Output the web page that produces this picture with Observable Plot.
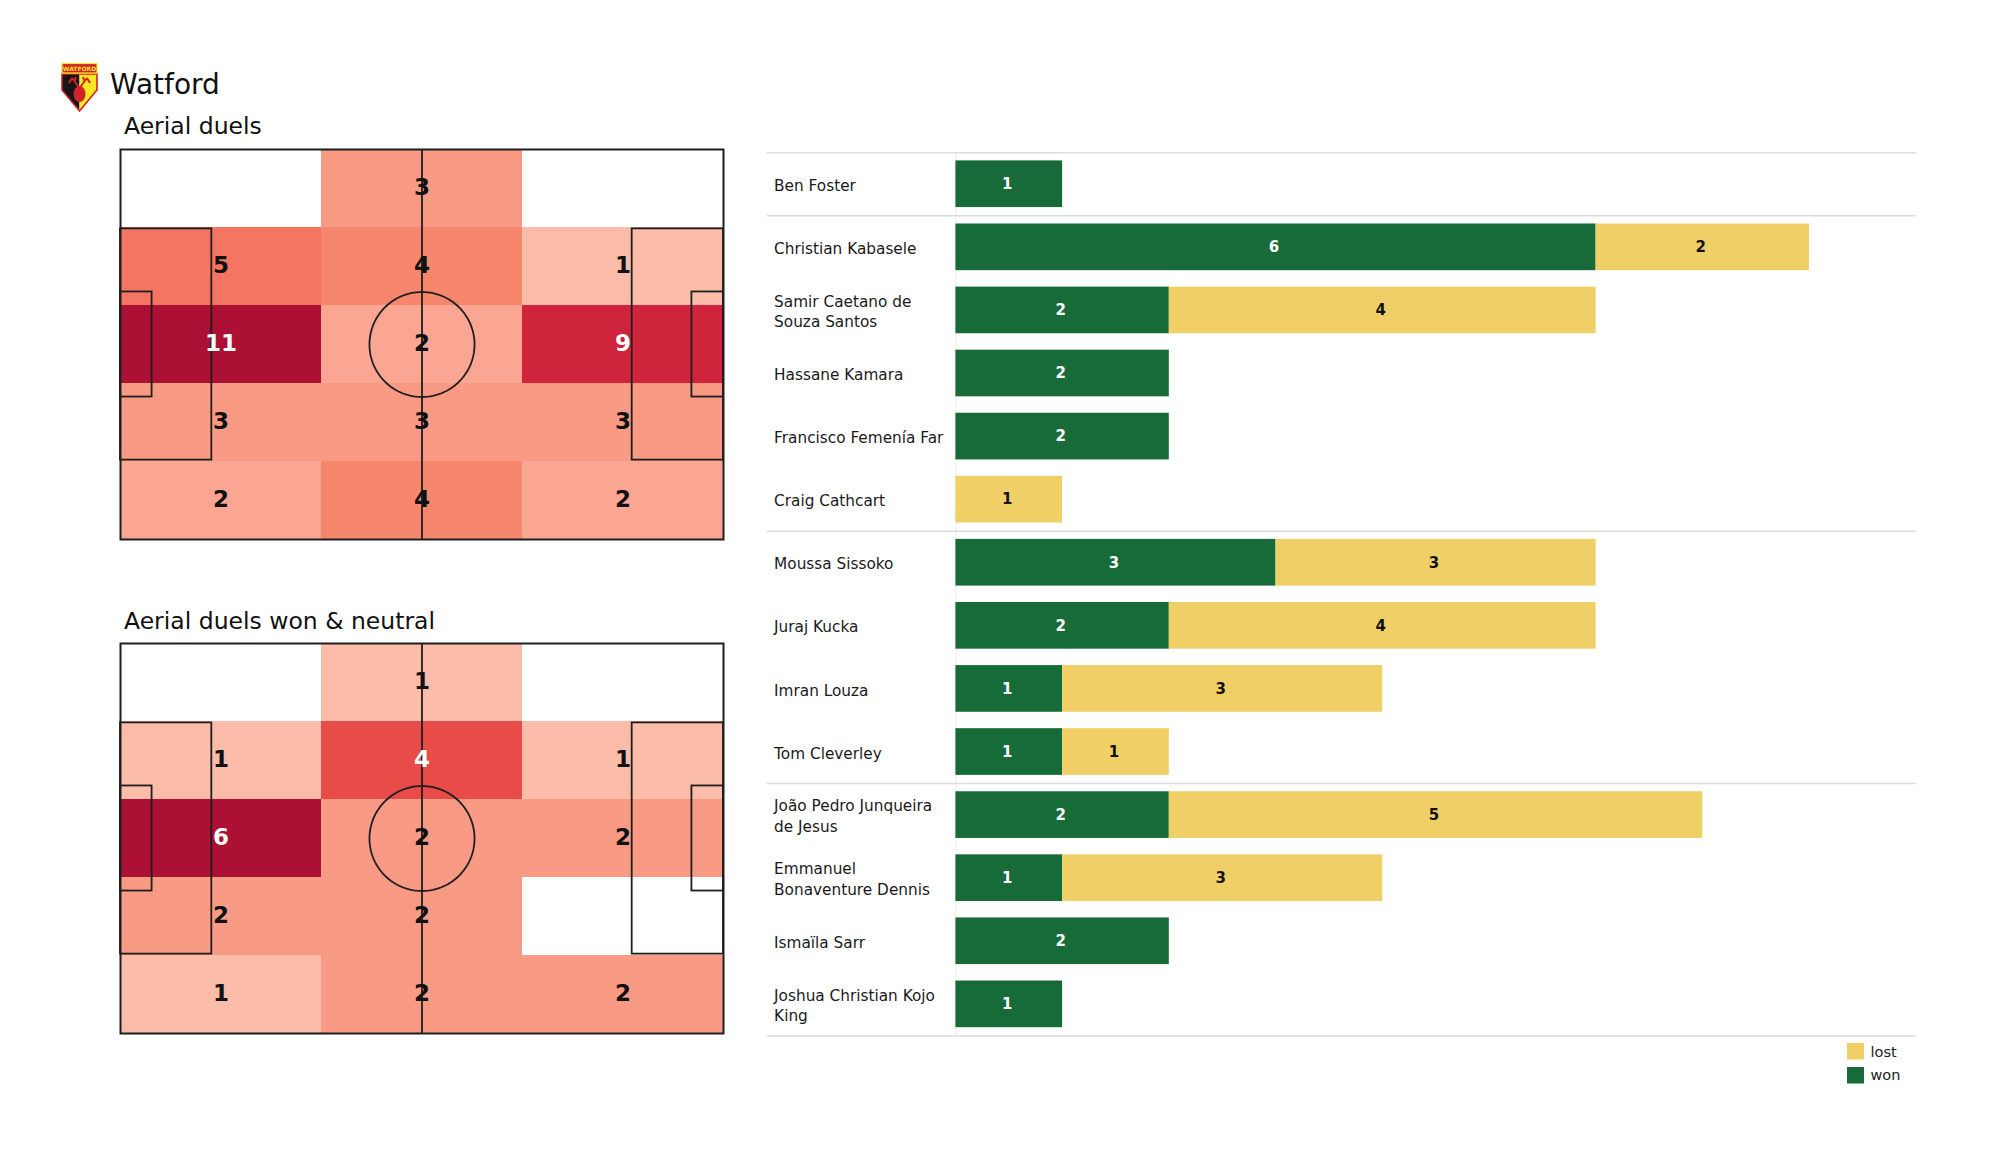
<!DOCTYPE html>
<html><head><meta charset="utf-8">
<script src="https://cdn.jsdelivr.net/npm/d3@7"></script>
<script src="https://cdn.jsdelivr.net/npm/@observablehq/plot@0.6"></script>
<style>
body{margin:0;background:#fff;font-family:"DejaVu Sans",sans-serif;}
#page{position:relative;width:2000px;height:1175px;overflow:hidden;background:#fff;}
</style></head><body><div id="page"></div>
<script>
// ---------- data ----------
const teamName = "Watford";
const pitchTitles = ["Aerial duels", "Aerial duels won & neutral"];
// zone counts, rows top->bottom, columns left->right (3 x 5 grid over a 105 x 68 pitch)
const aerialDuels      = [[0,3,0],[5,4,1],[11,2,9],[3,3,3],[2,4,2]];
const aerialWonNeutral = [[0,1,0],[1,4,1],[6,2,2],[2,2,0],[1,2,2]];

const players = ["Ben Foster","Christian Kabasele","Samir Caetano de Souza Santos","Hassane Kamara",
  "Francisco Femenía Far","Craig Cathcart","Moussa Sissoko","Juraj Kucka","Imran Louza","Tom Cleverley",
  "João Pedro Junqueira de Jesus","Emmanuel Bonaventure Dennis","Ismaïla Sarr","Joshua Christian Kojo King"];
const playerLabels = ["Ben Foster","Christian Kabasele","Samir Caetano de\nSouza Santos","Hassane Kamara",
  "Francisco Femenía Far","Craig Cathcart","Moussa Sissoko","Juraj Kucka","Imran Louza","Tom Cleverley",
  "João Pedro Junqueira\nde Jesus","Emmanuel\nBonaventure Dennis","Ismaïla Sarr","Joshua Christian Kojo\nKing"];
const positions = ["GK","DEF","DEF","DEF","DEF","DEF","MID","MID","MID","MID","FWD","FWD","FWD","FWD"];
const won  = [1,6,2,2,2,0,3,2,1,1,2,1,2,1];
const lost = [0,2,4,0,0,1,3,4,3,1,5,3,0,0];

const resultKeys = ["lost","won"];
const resultColors = ["#f1cf67","#176b38"];
const heatStops  = [0, 0.1, 0.2, 0.3, 0.4, 0.6, 0.8, 1];
const heatColors = ["#fcbcaa","#fba693","#f99b84","#f7876c","#f47561","#e84c48","#cf243c","#ad1035"];

// ---------- page ----------
const page = document.getElementById("page");
const FONT = "DejaVu Sans";
const svgNS = "http://www.w3.org/2000/svg";

// overlay: header, titles, legend, badge
const overlay = document.createElementNS(svgNS, "svg");
overlay.setAttribute("width", 2000); overlay.setAttribute("height", 1175);
overlay.style.position = "absolute"; overlay.style.left = "0"; overlay.style.top = "0";
overlay.innerHTML = `
<g transform="translate(61,63)">
  <polygon points="1,11 18.5,11 18.5,48 1,27" fill="#161616"/>
  <polygon points="18.5,11 36,11 36,27 18.5,48" fill="#fbe822"/>
  <polygon points="1,11 36,11 36,27 18.5,48 1,27" fill="none" stroke="#d2232a" stroke-width="1.6"/>
  <ellipse cx="18.5" cy="31" rx="6" ry="8" fill="#d2232a"/>
  <path d="M18.5 25 L11 15 M11 15 L8 20 M13.5 18 L15 14 M18.5 25 L26 15 M26 15 L29 20 M23.5 18 L22 14" stroke="#d2232a" stroke-width="2" fill="none"/>
  <rect x="1" y="0.5" width="35" height="9.5" fill="#d2232a" stroke="#fbe822" stroke-width="1.2"/>
  <text x="18.5" y="7.8" text-anchor="middle" font-family="${FONT}" font-size="6" font-weight="bold" fill="#fbe822">WATFORD</text>
</g>
<text x="110" y="94" font-family="${FONT}" font-size="28" fill="#111">${teamName}</text>
<text x="124" y="134" font-family="${FONT}" font-size="23.5" fill="#111">${pitchTitles[0]}</text>
<text x="124" y="628.5" font-family="${FONT}" font-size="23.5" fill="#111">${pitchTitles[1]}</text>
`;
// legend (vertical, lost then won)
resultKeys.forEach((k, i) => {
  const r = document.createElementNS(svgNS, "rect");
  r.setAttribute("x", 1847); r.setAttribute("y", 1043 + i * 24);
  r.setAttribute("width", 17); r.setAttribute("height", 16.5);
  r.setAttribute("fill", resultColors[i]);
  overlay.appendChild(r);
  const t = document.createElementNS(svgNS, "text");
  t.setAttribute("x", 1870.5); t.setAttribute("y", 1056.7 + i * 23.5);
  t.setAttribute("font-family", FONT); t.setAttribute("font-size", 14.5); t.setAttribute("fill", "#222");
  t.textContent = k;
  overlay.appendChild(t);
});
page.appendChild(overlay);

// ---------- pitch heatmaps ----------
const LINE = "#1e1e1e";
function pitchPlot(grid) {
  const cells = [];
  grid.forEach((row, r) => row.forEach((v, c) => {
    if (v > 0) cells.push({value: v, x1: c * 105 / 3, x2: (c + 1) * 105 / 3, y1: r * 68 / 5, y2: (r + 1) * 68 / 5});
  }));
  const lo = d3.min(cells, d => d.value), hi = d3.max(cells, d => d.value);
  const dark = d => (d.value - lo) / (hi - lo) > 0.5;
  const boxes = [
    {x1: 0, x2: 15.9, y1: 13.84, y2: 54.16}, {x1: 89.1, x2: 105, y1: 13.84, y2: 54.16},
    {x1: 0, x2: 5.5, y1: 24.84, y2: 43.16}, {x1: 99.5, x2: 105, y1: 24.84, y2: 43.16}
  ];
  const circle = d3.range(0, 361, 3).map(a => ({x: 52.5 + 9.15 * Math.cos(a * Math.PI / 180), y: 34 + 9.15 * Math.sin(a * Math.PI / 180)}));
  const labelOpts = {x: d => (d.x1 + d.x2) / 2, y: d => (d.y1 + d.y2) / 2, text: d => String(d.value), fontSize: 23, fontWeight: "bold", dy: -1};
  return Plot.plot({
    width: 611, height: 398, margin: 4,
    x: {domain: [0, 105], axis: null},
    y: {domain: [0, 68], reverse: true, axis: null},
    color: {domain: heatStops.map(t => lo + t * (hi - lo)), range: heatColors},
    style: {fontFamily: FONT, background: "transparent"},
    marks: [
      Plot.rect(cells, {x1: "x1", x2: "x2", y1: "y1", y2: "y2", fill: "value", shapeRendering: "crispEdges"}),
      Plot.rect(boxes, {x1: "x1", x2: "x2", y1: "y1", y2: "y2", fill: "none", stroke: LINE, strokeWidth: 1.8}),
      Plot.ruleX([52.5], {stroke: LINE, strokeWidth: 1.8}),
      Plot.line(circle, {x: "x", y: "y", stroke: LINE, strokeWidth: 1.8}),
      Plot.frame({stroke: LINE, strokeWidth: 2}),
      Plot.text(cells.filter(d => !dark(d)), {...labelOpts, fill: "#111"}),
      Plot.text(cells.filter(dark), {...labelOpts, fill: "white"})
    ]
  });
}
[[aerialDuels, 144.5], [aerialWonNeutral, 639.3]].forEach(([grid, top]) => {
  const svg = pitchPlot(grid);
  svg.style.position = "absolute"; svg.style.left = "116px"; svg.style.top = top + "px";
  page.appendChild(svg);
});

// ---------- stacked bars ----------
const rows = players.map((p, i) => ({i, player: p, label: playerLabels[i], won: won[i], lost: lost[i]}));
const segs = [];
rows.forEach(r => {
  if (r.won > 0) segs.push({i: r.i, result: "won", value: r.won, x1: 0, x2: r.won});
  if (r.lost > 0) segs.push({i: r.i, result: "lost", value: r.lost, x1: r.won, x2: r.won + r.lost});
});
const boundaries = [-0.5];
positions.forEach((p, i) => { if (i > 0 && p !== positions[i - 1]) boundaries.push(i - 0.5); });
boundaries.push(players.length - 0.5);

const segText = {x: d => (d.x1 + d.x2) / 2, y: "i", text: d => String(d.value), fontSize: 15, fontWeight: "bold", dx: -2};
const bars = Plot.plot({
  width: 1160, height: 910,
  marginLeft: 6.6, marginRight: 4.4, marginTop: 12.2, marginBottom: 14.6,
  x: {domain: [0, 8], range: [195.4, 1049], axis: null},
  y: {domain: [-0.5, players.length - 0.5], range: [12.2, 895.4], axis: null},
  color: {domain: resultKeys, range: resultColors},
  style: {fontFamily: FONT, background: "transparent"},
  marks: [
    Plot.ruleX([0], {stroke: "#efefef", strokeWidth: 1.2}),
    Plot.ruleY(boundaries, {stroke: "#dcdcdc", strokeWidth: 1.5}),
    Plot.rect(segs, {x1: "x1", x2: "x2", y1: d => d.i - 0.5, y2: d => d.i + 0.5, insetTop: 8.2, insetBottom: 8.2, fill: "result"}),
    Plot.text(segs.filter(d => d.result === "won"), {...segText, fill: "white"}),
    Plot.text(segs.filter(d => d.result === "lost"), {...segText, fill: "#111"}),
    Plot.text(rows, {y: "i", text: "label", frameAnchor: "left", textAnchor: "start", dx: 7, fontSize: 15.3, lineHeight: 1.35, fill: "#1a1a1a"})
  ]
});
bars.style.position = "absolute"; bars.style.left = "760px"; bars.style.top = "140px";
page.appendChild(bars);
</script>
</body></html>
